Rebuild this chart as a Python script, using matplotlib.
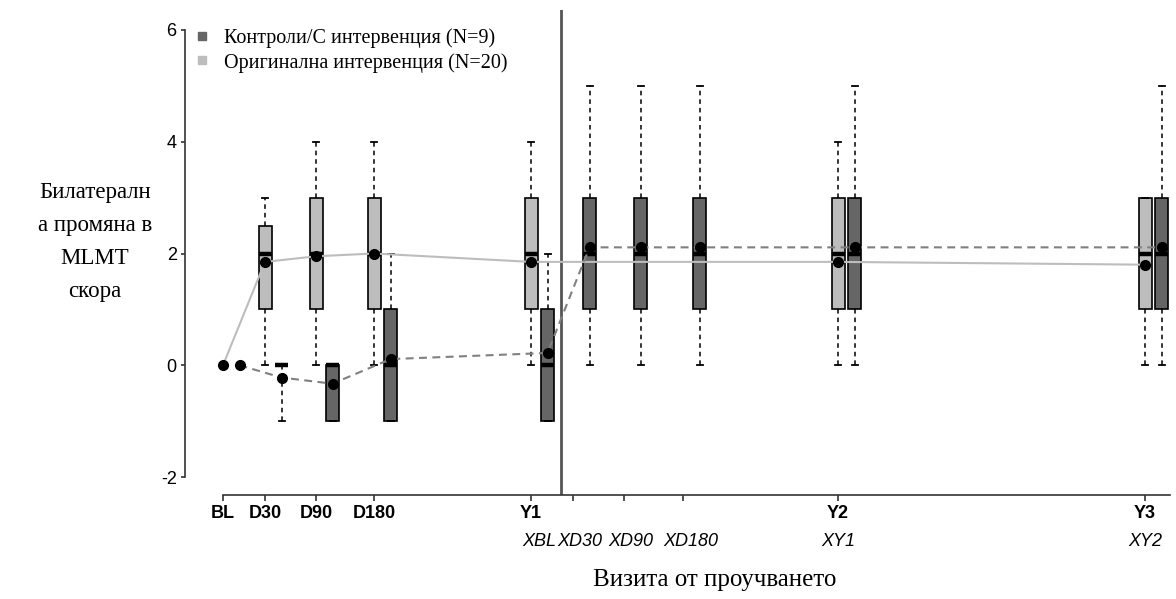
import matplotlib
matplotlib.use("Agg")
import matplotlib.pyplot as plt
import matplotlib.transforms as mtransforms
from matplotlib.lines import Line2D

# ---------------- data ----------------
tick_labels_main = ["BL", "D30", "D90", "D180", "Y1", "Y2", "Y3"]
tick_labels_cross = ["XBL", "XD30", "XD90", "XD180", "XY1", "XY2"]

# Original intervention (light), N=20 : visits BL, D30, D90, D180, Y1, Y2, Y3
light_visits = ["BL", "D30", "D90", "D180", "Y1", "Y2", "Y3"]
light_mean = [0.0, 1.85, 1.95, 2.00, 1.85, 1.85, 1.80]
# box statistics (no box at BL)
light_box_visits = ["D30", "D90", "D180", "Y1", "Y2", "Y3"]
light_whislo = [0, 0, 0, 0, 0, 0]
light_q1 = [1, 1, 1, 1, 1, 1]
light_med = [2, 2, 2, 2, 2, 2]
light_q3 = [2.5, 3, 3, 3, 3, 3]
light_whishi = [3, 4, 4, 4, 4, 3]

# Control / crossover intervention (dark), N=9
dark_visits = ["BL", "D30", "D90", "D180", "Y1", "XD30", "XD90", "XD180", "XY1", "XY2"]
dark_mean = [0.0, -0.22, -0.33, 0.11, 0.22, 2.11, 2.11, 2.11, 2.11, 2.11]
dark_box_visits = ["D30", "D90", "D180", "Y1", "XD30", "XD90", "XD180", "XY1", "XY2"]
dark_whislo = [-1, -1, -1, -1, 0, 0, 0, 0, 0]
dark_q1 = [0, -1, -1, -1, 1, 1, 1, 1, 1]
dark_med = [0, 0, 0, 0, 2, 2, 2, 2, 2]
dark_q3 = [0, 0, 1, 1, 3, 3, 3, 3, 3]
dark_whishi = [0, 0, 2, 2, 5, 5, 5, 5, 5]

legend_labels = ["Контроли/С интервенция (N=9)", "Оригинална интервенция (N=20)"]

# ---------------- layout (visit positions on the time axis) ----------------
pos = {"BL": 223, "D30": 265, "D90": 316, "D180": 374, "Y1": 531,
       "XBL": 561, "XD30": 573, "XD90": 624, "XD180": 683,
       "Y2": 838, "Y3": 1145, "XY1": 838, "XY2": 1145}
DARK_OFF = 16.5
cross_label_x = {"XBL": 539, "XD30": 580, "XD90": 631, "XD180": 691, "XY1": 838, "XY2": 1145}

LIGHT = "#bdbdbd"
DARK = "#666666"
SERIF = ["Liberation Serif", "DejaVu Serif"]
SANS = ["Liberation Sans", "DejaVu Sans"]

W, H = 1176, 599
fig = plt.figure(figsize=(W / 100, H / 100), dpi=100)
ax_l, ax_r, ax_t, ax_b = 185, 1170, 10, 495
ax = fig.add_axes([ax_l / W, 1 - ax_b / H, (ax_r - ax_l) / W, (ax_b - ax_t) / H])

px_per_unit = (477 - 30) / 8.0
ax.set_ylim(-2 - (ax_b - 477) / px_per_unit, 6 + (30 - ax_t) / px_per_unit)
ax.set_xlim(ax_l, ax_r)


def stats(lo, q1, med, q3, hi):
    return [dict(whislo=a, q1=b, med=c, q3=d, whishi=e, fliers=[])
            for a, b, c, d, e in zip(lo, q1, med, q3, hi)]


common = dict(widths=13, capwidths=6, showfliers=False, patch_artist=True,
              whiskerprops=dict(color="black", linewidth=1.1, linestyle=(0, (3, 2.6))),
              capprops=dict(color="black", linewidth=1.3),
              medianprops=dict(color="black", linewidth=3.2, solid_capstyle="butt"),
              manage_ticks=False)

ax.bxp(stats(light_whislo, light_q1, light_med, light_q3, light_whishi),
       positions=[pos[v] for v in light_box_visits],
       boxprops=dict(facecolor=LIGHT, edgecolor="black", linewidth=1.2), zorder=2, **common)
ax.bxp(stats(dark_whislo, dark_q1, dark_med, dark_q3, dark_whishi),
       positions=[pos[v] + DARK_OFF for v in dark_box_visits],
       boxprops=dict(facecolor=DARK, edgecolor="black", linewidth=1.2), zorder=2, **common)

lx = [pos[v] for v in light_visits]
dx = [pos[v] + DARK_OFF for v in dark_visits]
ax.plot(lx, light_mean, color=LIGHT, lw=1.5, zorder=3)
ax.plot(dx, dark_mean, color="#808080", lw=1.5, linestyle=(0, (3.8, 2.6)), zorder=3)
ax.plot(lx, light_mean, "o", color="black", ms=7, zorder=4)
ax.plot(dx, dark_mean, "o", color="black", ms=7, zorder=4)

ax.axvline(pos["XBL"], color="#555555", lw=2, zorder=1)

# spines
for s in ["top", "right"]:
    ax.spines[s].set_visible(False)
ax.spines["left"].set_bounds(-2, 6)
ax.spines["bottom"].set_bounds(pos["BL"], ax_r)
for s in ["left", "bottom"]:
    ax.spines[s].set_color("#333333")
    ax.spines[s].set_linewidth(1.2)

ax.set_yticks([-2, 0, 2, 4, 6])
ax.set_yticklabels(["-2", "0", "2", "4", "6"], fontfamily=SANS, fontsize=13)
ax.tick_params(axis="y", length=3, width=1.2, color="#333333", pad=3)

ax.set_xticks([pos[v] for v in tick_labels_main])
ax.set_xticklabels(tick_labels_main, fontfamily=SANS, fontsize=13, fontweight="bold")
ax.set_xticks([pos["XD30"], pos["XD90"], pos["XD180"]], minor=True)
ax.tick_params(axis="x", which="both", length=4, width=1.2, color="#333333", pad=3)

# italic crossover labels (data-x / figure-y)
tr = mtransforms.blended_transform_factory(ax.transData, fig.transFigure)
for lab in tick_labels_cross:
    ax.text(cross_label_x[lab], 1 - 541 / H, lab, transform=tr, fontsize=13,
            fontstyle="italic", fontfamily=SANS, ha="center", va="center")

# axis titles
fig.text(95 / W, 1 - 242 / H, "Билатерaлн\nа промяна в\nMLMT\nскора", ha="center",
         va="center", fontsize=16.5, fontfamily=SERIF, linespacing=1.75)
fig.text(715 / W, 1 - 580 / H, "Визита от проучването", ha="center", va="center",
         fontsize=18, fontfamily=SERIF)

# legend
handles = [Line2D([], [], marker="s", linestyle="none", color=DARK, markersize=6),
           Line2D([], [], marker="s", linestyle="none", color=LIGHT, markersize=6)]
ax.legend(handles, legend_labels, loc="upper left", bbox_to_anchor=(196 / W, 1 - 28 / H),
          bbox_transform=fig.transFigure, frameon=False, prop=dict(family=SERIF, size=14.5),
          handlelength=0.6, handletextpad=0.8, labelspacing=0.25, borderpad=0, borderaxespad=0)

fig.savefig("out.png", dpi=100)
